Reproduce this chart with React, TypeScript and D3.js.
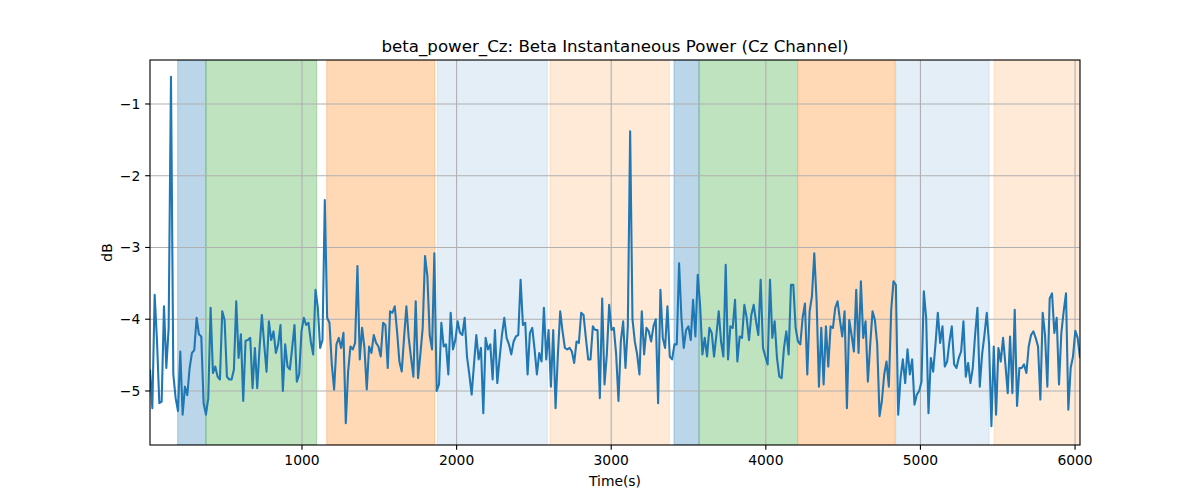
import React from "react";
import * as d3 from "d3";

// ---- data ----
const T_START = 17;
const T_STEP = 15.075;

const betaPower: number[] = [
  -4.7, -5.24, -3.66, -4.3, -5.17, -5.15, -3.82, -4.68, -4.12, -0.62,
  -4.77, -5.1, -5.28, -4.45, -5.33, -4.94, -5.06, -4.68, -4.47, -4.43,
  -3.98, -4.21, -4.24, -5.17, -5.33, -5.1, -3.84, -4.75, -4.66, -4.8,
  -4.84, -3.89, -4.01, -4.8, -4.84, -4.84, -4.7, -3.75, -4.54, -4.21,
  -5.14, -4.3, -4.29, -4.26, -4.96, -4.4, -4.96, -4.4, -3.94, -4.35,
  -4.73, -4.03, -4.29, -4.17, -4.47, -4.35, -4.08, -5.0, -4.35, -4.66,
  -4.7, -4.4, -4.08, -4.87, -4.77, -4.17, -3.98, -4.08, -4.05, -4.31,
  -4.49, -3.59, -3.84, -4.4, -4.29, -2.34, -3.98, -4.05, -4.63, -4.98,
  -4.35, -4.26, -4.4, -4.19, -5.45, -4.73, -4.38, -4.42, -4.33, -3.26,
  -4.56, -4.12, -4.4, -4.98, -4.38, -4.47, -4.22, -4.33, -4.38, -4.52,
  -4.05, -4.08, -4.68, -3.89, -3.91, -3.82, -4.17, -4.59, -4.73, -4.26,
  -3.82, -4.26, -4.54, -4.8, -3.75, -4.82, -4.49, -4.12, -3.12, -3.4,
  -4.22, -4.42, -3.08, -5.0, -4.91, -4.05, -4.38, -4.35, -4.77, -3.91,
  -4.42, -4.29, -4.03, -4.19, -4.22, -3.98, -4.52, -4.77, -5.05, -4.63,
  -4.22, -4.56, -4.4, -5.31, -4.26, -4.42, -4.35, -4.84, -4.15, -4.89,
  -4.54, -4.22, -3.98, -4.26, -4.35, -4.49, -4.31, -4.24, -4.22, -3.45,
  -4.08, -4.05, -4.77, -4.19, -4.12, -4.42, -4.77, -4.47, -4.59, -3.84,
  -4.56, -4.15, -4.94, -4.15, -5.24, -4.49, -3.89, -4.17, -4.4, -4.42,
  -4.4, -4.45, -4.61, -4.31, -4.33, -3.91, -3.94, -4.26, -4.56, -4.56,
  -4.1, -4.15, -4.15, -5.1, -3.71, -4.91, -4.49, -3.8, -4.15, -4.12,
  -4.49, -5.14, -4.31, -4.03, -4.68, -4.1, -1.38, -4.0, -4.31, -4.49,
  -4.77, -3.89, -4.49, -4.12, -4.17, -4.31, -4.1, -4.0, -5.17, -3.59,
  -4.26, -4.4, -3.82, -4.52, -4.56, -4.35, -4.35, -3.22, -3.98, -4.4,
  -4.15, -4.1, -4.29, -3.73, -4.24, -3.38, -3.8, -4.49, -4.26, -4.52,
  -4.12, -4.19, -4.52, -4.22, -3.89, -4.31, -4.52, -3.24, -4.56, -4.1,
  -4.12, -3.73, -4.59, -4.24, -4.26, -3.8, -3.98, -4.29, -3.94, -3.8,
  -4.03, -4.22, -3.45, -4.4, -4.52, -4.63, -3.45, -4.26, -4.03, -4.54,
  -4.8, -4.82, -4.4, -4.17, -4.49, -3.52, -3.52, -4.12, -4.31, -4.35,
  -3.98, -3.78, -4.77, -3.89, -3.68, -3.08, -3.75, -4.94, -4.12, -4.91,
  -4.1, -4.66, -4.1, -4.12, -3.84, -3.75, -4.01, -4.24, -3.89, -5.24,
  -4.01, -4.22, -4.45, -3.59, -4.47, -3.47, -4.26, -4.03, -4.87, -4.35,
  -3.89, -4.01, -4.35, -5.35, -5.14, -4.77, -4.59, -4.94, -3.87, -3.47,
  -3.52, -5.33, -4.82, -4.56, -4.89, -4.42, -4.77, -4.56, -5.19, -5.05,
  -5.0, -4.87, -3.61, -3.98, -5.31, -4.54, -4.73, -4.35, -3.91, -4.33,
  -4.1, -4.66, -4.59, -4.31, -4.1, -4.63, -4.68, -4.54, -4.45, -4.03,
  -4.8, -4.61, -4.89, -4.68, -4.22, -3.84, -4.94, -4.49, -4.22, -3.91,
  -4.35, -5.49, -4.38, -5.33, -4.4, -4.59, -4.26, -4.63, -5.03, -4.24,
  -5.03, -3.87, -5.21, -4.68, -4.68, -4.63, -4.75, -4.38, -4.22, -4.17,
  -4.26, -4.38, -5.12, -3.91, -4.22, -4.94, -3.71, -3.64, -4.19, -3.98,
  -4.91, -4.19, -3.89, -3.64, -5.26, -4.68, -4.52, -4.16, -4.26, -4.54,
];

const bandStarts = [196, 379, 1160, 1875, 2604, 3406, 3568, 4212, 4840, 5476];
const bandEnds = [379, 1095, 1860, 2587, 3376, 3568, 4205, 4836, 5444, 6032];
const bandKinds = [
  "blue", "green", "orange", "lightblue", "lightorange",
  "blue", "green", "orange", "lightblue", "lightorange",
];

const xTicks = [1000, 2000, 3000, 4000, 5000, 6000];
const yTicks = [-1, -2, -3, -4, -5];

const X_DOMAIN: [number, number] = [17, 6032];
const Y_DOMAIN: [number, number] = [-5.753, -0.387];

// ---- styles ----
const bandStyle: Record<string, { color: string; opacity: number }> = {
  blue: { color: "#1f77b4", opacity: 0.3 },
  green: { color: "#2ca02c", opacity: 0.3 },
  orange: { color: "#ff7f0e", opacity: 0.3 },
  lightblue: { color: "#1f77b4", opacity: 0.12 },
  lightorange: { color: "#ff7f0e", opacity: 0.16 },
};

const W = 1200;
const H = 500;
const M = { left: 150, right: 1080, top: 60, bottom: 445 };
const FONT = "'DejaVu Sans', Verdana, sans-serif";
const PT = 100 / 72;
const TICK_FS = 10 * PT;
const TITLE_FS = 12 * PT;
const TICK_LEN = 3.5 * PT;
const THIN = 0.8 * PT;

export default function App() {
  const x = d3.scaleLinear().domain(X_DOMAIN).range([M.left, M.right]);
  const y = d3.scaleLinear().domain(Y_DOMAIN).range([M.bottom, M.top]);

  const pts: [number, number][] = betaPower.map((v, i) => [T_START + i * T_STEP, v]);
  const line = d3
    .line<[number, number]>()
    .x((d) => x(d[0]))
    .y((d) => y(d[1]));

  const fmt = (v: number) => (v < 0 ? "\u2212" + Math.abs(v) : String(v));

  return (
    <svg
      width={W}
      height={H}
      viewBox={`0 0 ${W} ${H}`}
      style={{ position: "absolute", left: 0, top: 0, background: "#fff" }}
      fontFamily={FONT}
    >
      <rect x={0} y={0} width={W} height={H} fill="#fff" />
      <defs>
        <clipPath id="plotclip">
          <rect x={M.left} y={M.top} width={M.right - M.left} height={M.bottom - M.top} />
        </clipPath>
      </defs>
      <g clipPath="url(#plotclip)">
        {bandStarts.map((s, i) => {
          const st = bandStyle[bandKinds[i]];
          return (
            <rect
              key={"b" + i}
              x={x(s)}
              y={M.top}
              width={x(bandEnds[i]) - x(s)}
              height={M.bottom - M.top}
              fill={st.color}
              fillOpacity={st.opacity}
              stroke={st.color}
              strokeOpacity={st.opacity}
              strokeWidth={1}
            />
          );
        })}
        {xTicks.map((t) => (
          <line
            key={"gx" + t}
            x1={x(t)}
            x2={x(t)}
            y1={M.top}
            y2={M.bottom}
            stroke="#b0b0b0"
            strokeWidth={THIN}
          />
        ))}
        {yTicks.map((t) => (
          <line
            key={"gy" + t}
            x1={M.left}
            x2={M.right}
            y1={y(t)}
            y2={y(t)}
            stroke="#b0b0b0"
            strokeWidth={THIN}
          />
        ))}
        <path
          d={line(pts) || ""}
          fill="none"
          stroke="#1f77b4"
          strokeWidth={1.5 * PT}
          strokeLinejoin="round"
          strokeLinecap="butt"
        />
      </g>
      {/* spines */}
      <rect
        x={M.left}
        y={M.top}
        width={M.right - M.left}
        height={M.bottom - M.top}
        fill="none"
        stroke="#000"
        strokeWidth={THIN}
      />
      {/* x ticks */}
      {xTicks.map((t) => (
        <g key={"xt" + t}>
          <line x1={x(t)} x2={x(t)} y1={M.bottom} y2={M.bottom + TICK_LEN} stroke="#000" strokeWidth={THIN} />
          <text x={x(t)} y={M.bottom + 2 * TICK_LEN + 10.6} textAnchor="middle" fontSize={TICK_FS} fill="#000">
            {fmt(t)}
          </text>
        </g>
      ))}
      {/* y ticks */}
      {yTicks.map((t) => (
        <g key={"yt" + t}>
          <line x1={M.left - TICK_LEN} x2={M.left} y1={y(t)} y2={y(t)} stroke="#000" strokeWidth={THIN} />
          <text
            x={M.left - 2 * TICK_LEN}
            y={y(t)}
            textAnchor="end"
            dominantBaseline="central"
            fontSize={TICK_FS}
            fill="#000"
          >
            {fmt(t)}
          </text>
        </g>
      ))}
      <text x={(M.left + M.right) / 2} y={486} textAnchor="middle" fontSize={TICK_FS} fill="#000">
        Time(s)
      </text>
      <text
        transform={`translate(112, ${(M.top + M.bottom) / 2}) rotate(-90)`}
        textAnchor="middle"
        fontSize={TICK_FS}
        fill="#000"
      >
        dB
      </text>
      <text x={(M.left + M.right) / 2} y={52} textAnchor="middle" fontSize={TITLE_FS} fill="#000">
        beta_power_Cz: Beta Instantaneous Power (Cz Channel)
      </text>
    </svg>
  );
}
